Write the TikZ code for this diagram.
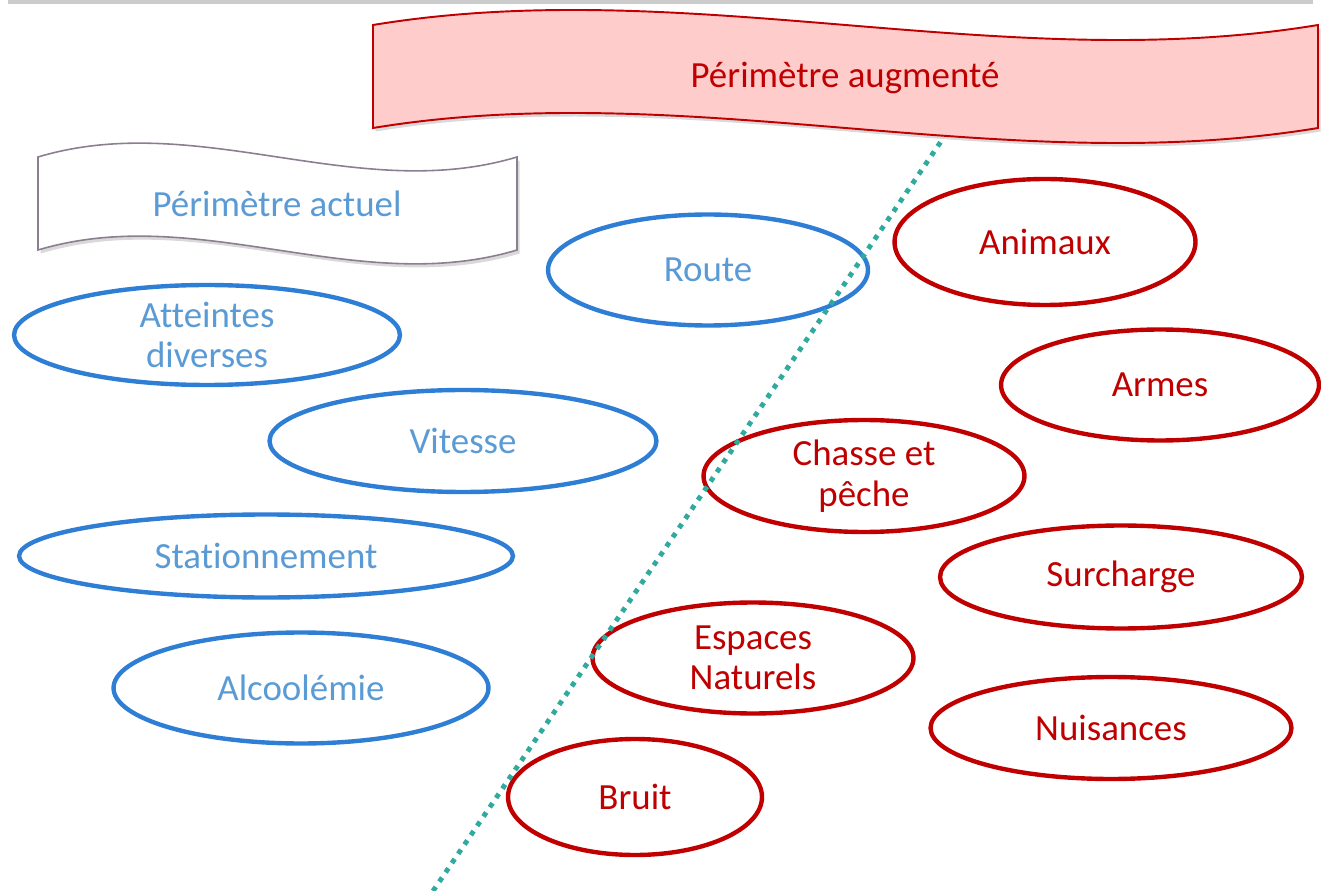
\documentclass[tikz,border=0pt]{standalone}
\usepackage{fontspec}
\setmainfont[Ligatures=NoCommon]{Carlito}
\usetikzlibrary{shapes.geometric,shadows}

\definecolor{bleuTrait}{RGB}{47,126,213}
\definecolor{bleuTexte}{RGB}{91,155,213}
\definecolor{rouge}{RGB}{192,0,0}
\definecolor{roseFond}{RGB}{255,204,204}
\definecolor{grisBord}{RGB}{140,125,145}
\definecolor{sarcelle}{RGB}{48,170,158}

\begin{document}
\begin{tikzpicture}[x=0.02cm,y=-0.02cm,
        bulle/.style={ellipse,line width=2.5pt,inner sep=-8pt,align=center,font=\fontsize{21}{23}\selectfont},
        actuel/.style={bulle,draw=bleuTrait,text=bleuTexte},
        augmente/.style={bulle,draw=rouge,text=rouge},
        banniere/.style={drop shadow={shadow xshift=1.5pt,shadow yshift=-2pt,opacity=0.3}},
        titre/.style={font=\fontsize{21}{23}\selectfont}]
        \useasboundingbox (0,0) rectangle (1321,891);

        \draw[gray!40,line width=2.5pt] (8,2) -- (1313,2);

        % perimetre actuel
        \node[actuel,minimum width=6.4cm,minimum height=2.22cm] (route) at (708,270) {Route};
        \node[actuel,minimum width=7.72cm,minimum height=2.0cm] (atteintes) at (207,335) {Atteintes\\diverses};
        \node[actuel,minimum width=7.74cm,minimum height=2.04cm] (vitesse) at (463,441) {Vitesse};
        \node[actuel,minimum width=9.88cm,minimum height=1.66cm] (stationnement) at (266,556) {Stationnement};
        \node[actuel,minimum width=7.5cm,minimum height=2.22cm] (alcoolemie) at (301,688) {Alcoolémie};

        % perimetre augmente
        \node[augmente,minimum width=6.02cm,minimum height=2.52cm] (animaux) at (1045,242) {Animaux};
        \node[augmente,minimum width=6.36cm,minimum height=2.22cm] (armes) at (1160,385) {Armes};
        \node[augmente,minimum width=6.42cm,minimum height=2.24cm] (chasse) at (864,476) {Chasse et\\pêche};
        \node[augmente,minimum width=7.24cm,minimum height=2.06cm] (surcharge) at (1121,577) {Surcharge};
        \node[augmente,minimum width=6.42cm,minimum height=2.22cm] (espaces) at (753,658) {Espaces\\Naturels};
        \node[augmente,minimum width=7.22cm,minimum height=2.04cm] (nuisances) at (1111,728) {Nuisances};
        \node[augmente,minimum width=5.08cm,minimum height=2.32cm] (bruit) at (635,797) {Bruit};

        \coordinate (basLimite) at (433,891);
        \coordinate (hautLimite) at (942,140);
        \draw[sarcelle,line width=2.8pt,dash pattern=on 2.8pt off 3.6pt] (basLimite) -- (hautLimite);

        \draw[banniere,draw=grisBord,line width=0.9pt,fill=white] (38,157) .. controls (198,109) and (357,205) .. (517,157) -- (517,250) .. controls (357,298) and (198,202) .. (38,250) -- cycle;
        \node[titre,text=bleuTexte] (titreActuel) at (277,204) {Périmètre actuel};

        \draw[banniere,draw=rouge,line width=1.1pt,fill=roseFond] (373,25) .. controls (688,-27) and (1003,77) .. (1318,25) -- (1318,128) .. controls (1003,180) and (688,76) .. (373,128) -- cycle;
        \node[titre,text=rouge] (titreAugmente) at (845,78) {Périmètre augmenté};

    \end{tikzpicture}
\end{document}
